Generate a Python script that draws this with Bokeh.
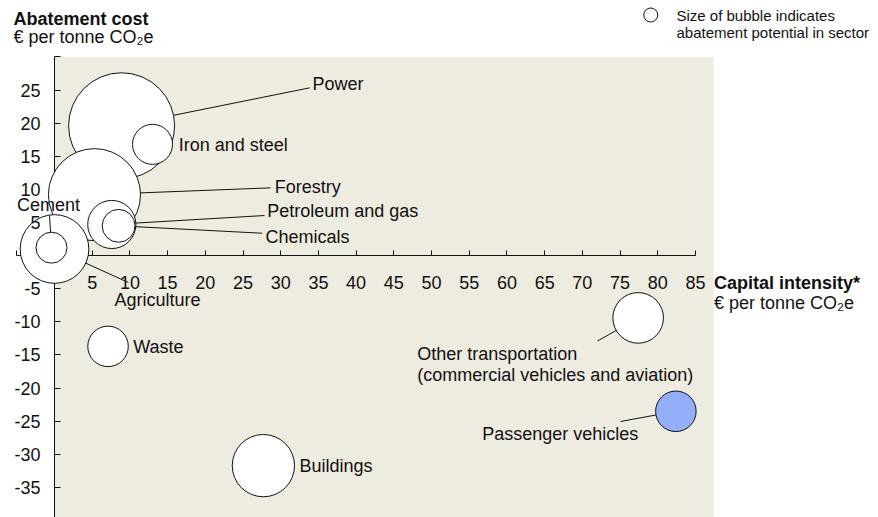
import numpy as np
from bokeh.plotting import figure
from bokeh.models import (Range1d, FixedTicker, LinearAxis, BoxAnnotation,
                          ColumnDataSource, CustomJSTickFormatter)
from bokeh.core.properties import value
from bokeh.embed import file_html
from bokeh.resources import INLINE

# ---------------- data ----------------
sectors = ["Power", "Iron and steel", "Forestry", "Agriculture", "Cement",
           "Petroleum and gas", "Chemicals", "Waste", "Buildings",
           "Other transportation", "Passenger vehicles"]
capital_intensity = [8.9, 13.0, 5.3, 0.0, -0.4, 7.6, 8.5, 7.1, 27.7, 77.4, 82.4]
abatement_cost = [19.6, 16.8, 9.2, 1.0, 1.2, 4.7, 4.5, -13.7, -31.7, -9.4, -23.5]
abatement_potential = [281, 40, 212, 118, 24, 58, 27, 41, 97, 64, 41]

x_ticks = list(range(-5, 90, 5))
y_ticks = list(range(-35, 35, 5))
x_hidden_labels = [-5, 0]
y_hidden_labels = [0, 30]

# ---------------- layout / style ----------------
W, H = 878, 517
X0, X1 = -7.16, 109.27
Y0, Y1 = -39.53, 38.51
SX = W / (X1 - X0)
SY = H / (Y1 - Y0)
FONT = "Liberation Sans"
INK = "#111111"
BEIGE = "#EEEBE0"
BLUE = "#94AFF9"
highlight = "Passenger vehicles"
size_k = np.sqrt(40.0)   # diameter in px = size_k * sqrt(potential)
LIFT18 = 6.0 / SY        # baseline correction for 18px text (data units)
LIFT15 = 5.0 / SY        # baseline correction for 15px text

p = figure(width=W, height=H, output_backend="svg", toolbar_location=None,
           x_range=Range1d(X0, X1), y_range=Range1d(Y0, Y1),
           x_axis_location=None, y_axis_location=None,
           min_border=0, min_border_left=0, min_border_right=0,
           min_border_top=0, min_border_bottom=0)
p.outline_line_color = None
p.background_fill_color = "white"
p.border_fill_color = "white"
p.grid.visible = False

# beige plotting area (x >= 0, y <= 30)
p.add_layout(BoxAnnotation(left=0, right=87.39, top=30, bottom=None,
                           fill_color=BEIGE, fill_alpha=1, line_color=None,
                           level="image"))

def labels_for(ticks, hidden):
    return {t: ("" if t in hidden else str(t)) for t in ticks}

# axes: lines/ticks under the bubbles, labels above
blank = CustomJSTickFormatter(code="return ''")
xline = LinearAxis(fixed_location=0, bounds=(-5, 85), ticker=FixedTicker(ticks=x_ticks),
                   formatter=blank, level="underlay",
                   axis_line_color=INK, major_tick_line_color=INK,
                   major_tick_in=5, major_tick_out=0, minor_tick_line_color=None)
yline = LinearAxis(fixed_location=0, bounds=(Y0, 30), ticker=FixedTicker(ticks=y_ticks),
                   formatter=blank, level="underlay",
                   axis_line_color=INK, major_tick_line_color=INK,
                   major_tick_in=6, major_tick_out=0, minor_tick_line_color=None)
p.add_layout(xline, "below")
p.add_layout(yline, "left")

xlab = LinearAxis(fixed_location=0, ticker=FixedTicker(ticks=x_ticks),
                  major_label_overrides=labels_for(x_ticks, x_hidden_labels),
                  axis_line_color=None, major_tick_line_color=None,
                  minor_tick_line_color=None, major_tick_in=0, major_tick_out=0,
                  major_label_standoff=20, major_label_text_font=FONT,
                  major_label_text_font_size="18px", major_label_text_color=INK)
ylab = LinearAxis(fixed_location=0, ticker=FixedTicker(ticks=y_ticks),
                  major_label_overrides=labels_for(y_ticks, y_hidden_labels),
                  axis_line_color=None, major_tick_line_color=None,
                  minor_tick_line_color=None, major_tick_in=0, major_tick_out=0,
                  major_label_standoff=14, major_label_text_font=FONT,
                  major_label_text_font_size="18px", major_label_text_color=INK)
p.add_layout(xlab, "below")
p.add_layout(ylab, "left")

# ---------------- bubbles ----------------
diam = [size_k * np.sqrt(v) for v in abatement_potential]
fills = [BLUE if s == highlight else "white" for s in sectors]
src = ColumnDataSource(dict(x=capital_intensity, y=abatement_cost, size=diam,
                            fill=fills, name=sectors))
p.scatter("x", "y", size="size", source=src, fill_color="fill",
          line_color=INK, line_width=1)

# ---------------- leader lines ----------------
# sector -> end point of leader line (data units)
leader_end = {
    "Power": (33.85, 25.33),
    "Forestry": (28.64, 10.23),
    "Petroleum and gas": (27.85, 6.05),
    "Chemicals": (27.54, 3.38),
    "Cement": (-0.66, 6.05),
    "Agriculture": (9.81, -4.06),
    "Other transportation": (72.01, -12.89),
    "Passenger vehicles": (75.06, -25.04),
}
x0s, y0s, x1s, y1s = [], [], [], []
for name, (ex, ey) in leader_end.items():
    i = sectors.index(name)
    cx, cy, r = capital_intensity[i], abatement_cost[i], diam[i] / 2
    dxp, dyp = (ex - cx) * SX, (ey - cy) * SY
    d = np.hypot(dxp, dyp)
    x0s.append(cx + dxp / d * r / SX)
    y0s.append(cy + dyp / d * r / SY)
    x1s.append(ex)
    y1s.append(ey)
p.segment(x0s, y0s, x1s, y1s, line_color=INK, line_width=1)

# ---------------- labels ----------------
lab_text = ["Power", "Iron and steel", "Forestry", "Petroleum and gas", "Chemicals",
            "Agriculture", "Waste", "Buildings", "Other transportation",
            "(commercial vehicles and aviation)", "Passenger vehicles"]
lab_x = [34.21, 16.48, 29.21, 28.21, 27.98, 7.96, 10.44, 32.49, 48.10, 48.10, 56.72]
lab_y = [25.01, 15.76, 9.42, 5.80, 1.87, -7.53, -14.73, -32.66, -15.73, -19.00, -27.80]
p.text(lab_x, [v + LIFT18 for v in lab_y], text=lab_text, text_font=value(FONT),
       text_font_size="18px", text_color=INK, text_align="left",
       text_baseline="alphabetic")
p.text([-0.80], [6.70 + LIFT18], text=["Cement"], text_font=value(FONT),
       text_font_size="18px", text_color=INK, text_align="center",
       text_baseline="alphabetic")

# axis titles
p.text([-5.44], [34.84 + LIFT18], text=["Abatement cost"], text_font=value(FONT),
       text_font_size="18px", text_font_style="bold", text_color=INK,
       text_align="left", text_baseline="alphabetic")
p.text([-5.44], [32.06 + LIFT18], text=["€ per tonne CO₂e"], text_font=value(FONT),
       text_font_size="18px", text_color=INK, text_align="left", text_baseline="alphabetic")
p.text([87.44], [-5.01 + LIFT18], text=["Capital intensity*"], text_font=value(FONT),
       text_font_size="18px", text_font_style="bold", text_color=INK,
       text_align="left", text_baseline="alphabetic")
p.text([87.44], [-8.03 + LIFT18], text=["€ per tonne CO₂e"], text_font=value(FONT),
       text_font_size="18px", text_color=INK, text_align="left", text_baseline="alphabetic")

# size legend
p.scatter([79.07], [36.32], size=14, fill_color="white", line_color=INK, line_width=1)
p.text([82.48, 82.48], [35.49 + LIFT15, 32.97 + LIFT15],
       text=["Size of bubble indicates", "abatement potential in sector"],
       text_font=value(FONT), text_font_size="15px", text_color=INK,
       text_align="left", text_baseline="alphabetic")

open("out.html", "w").write(file_html(p, INLINE))
